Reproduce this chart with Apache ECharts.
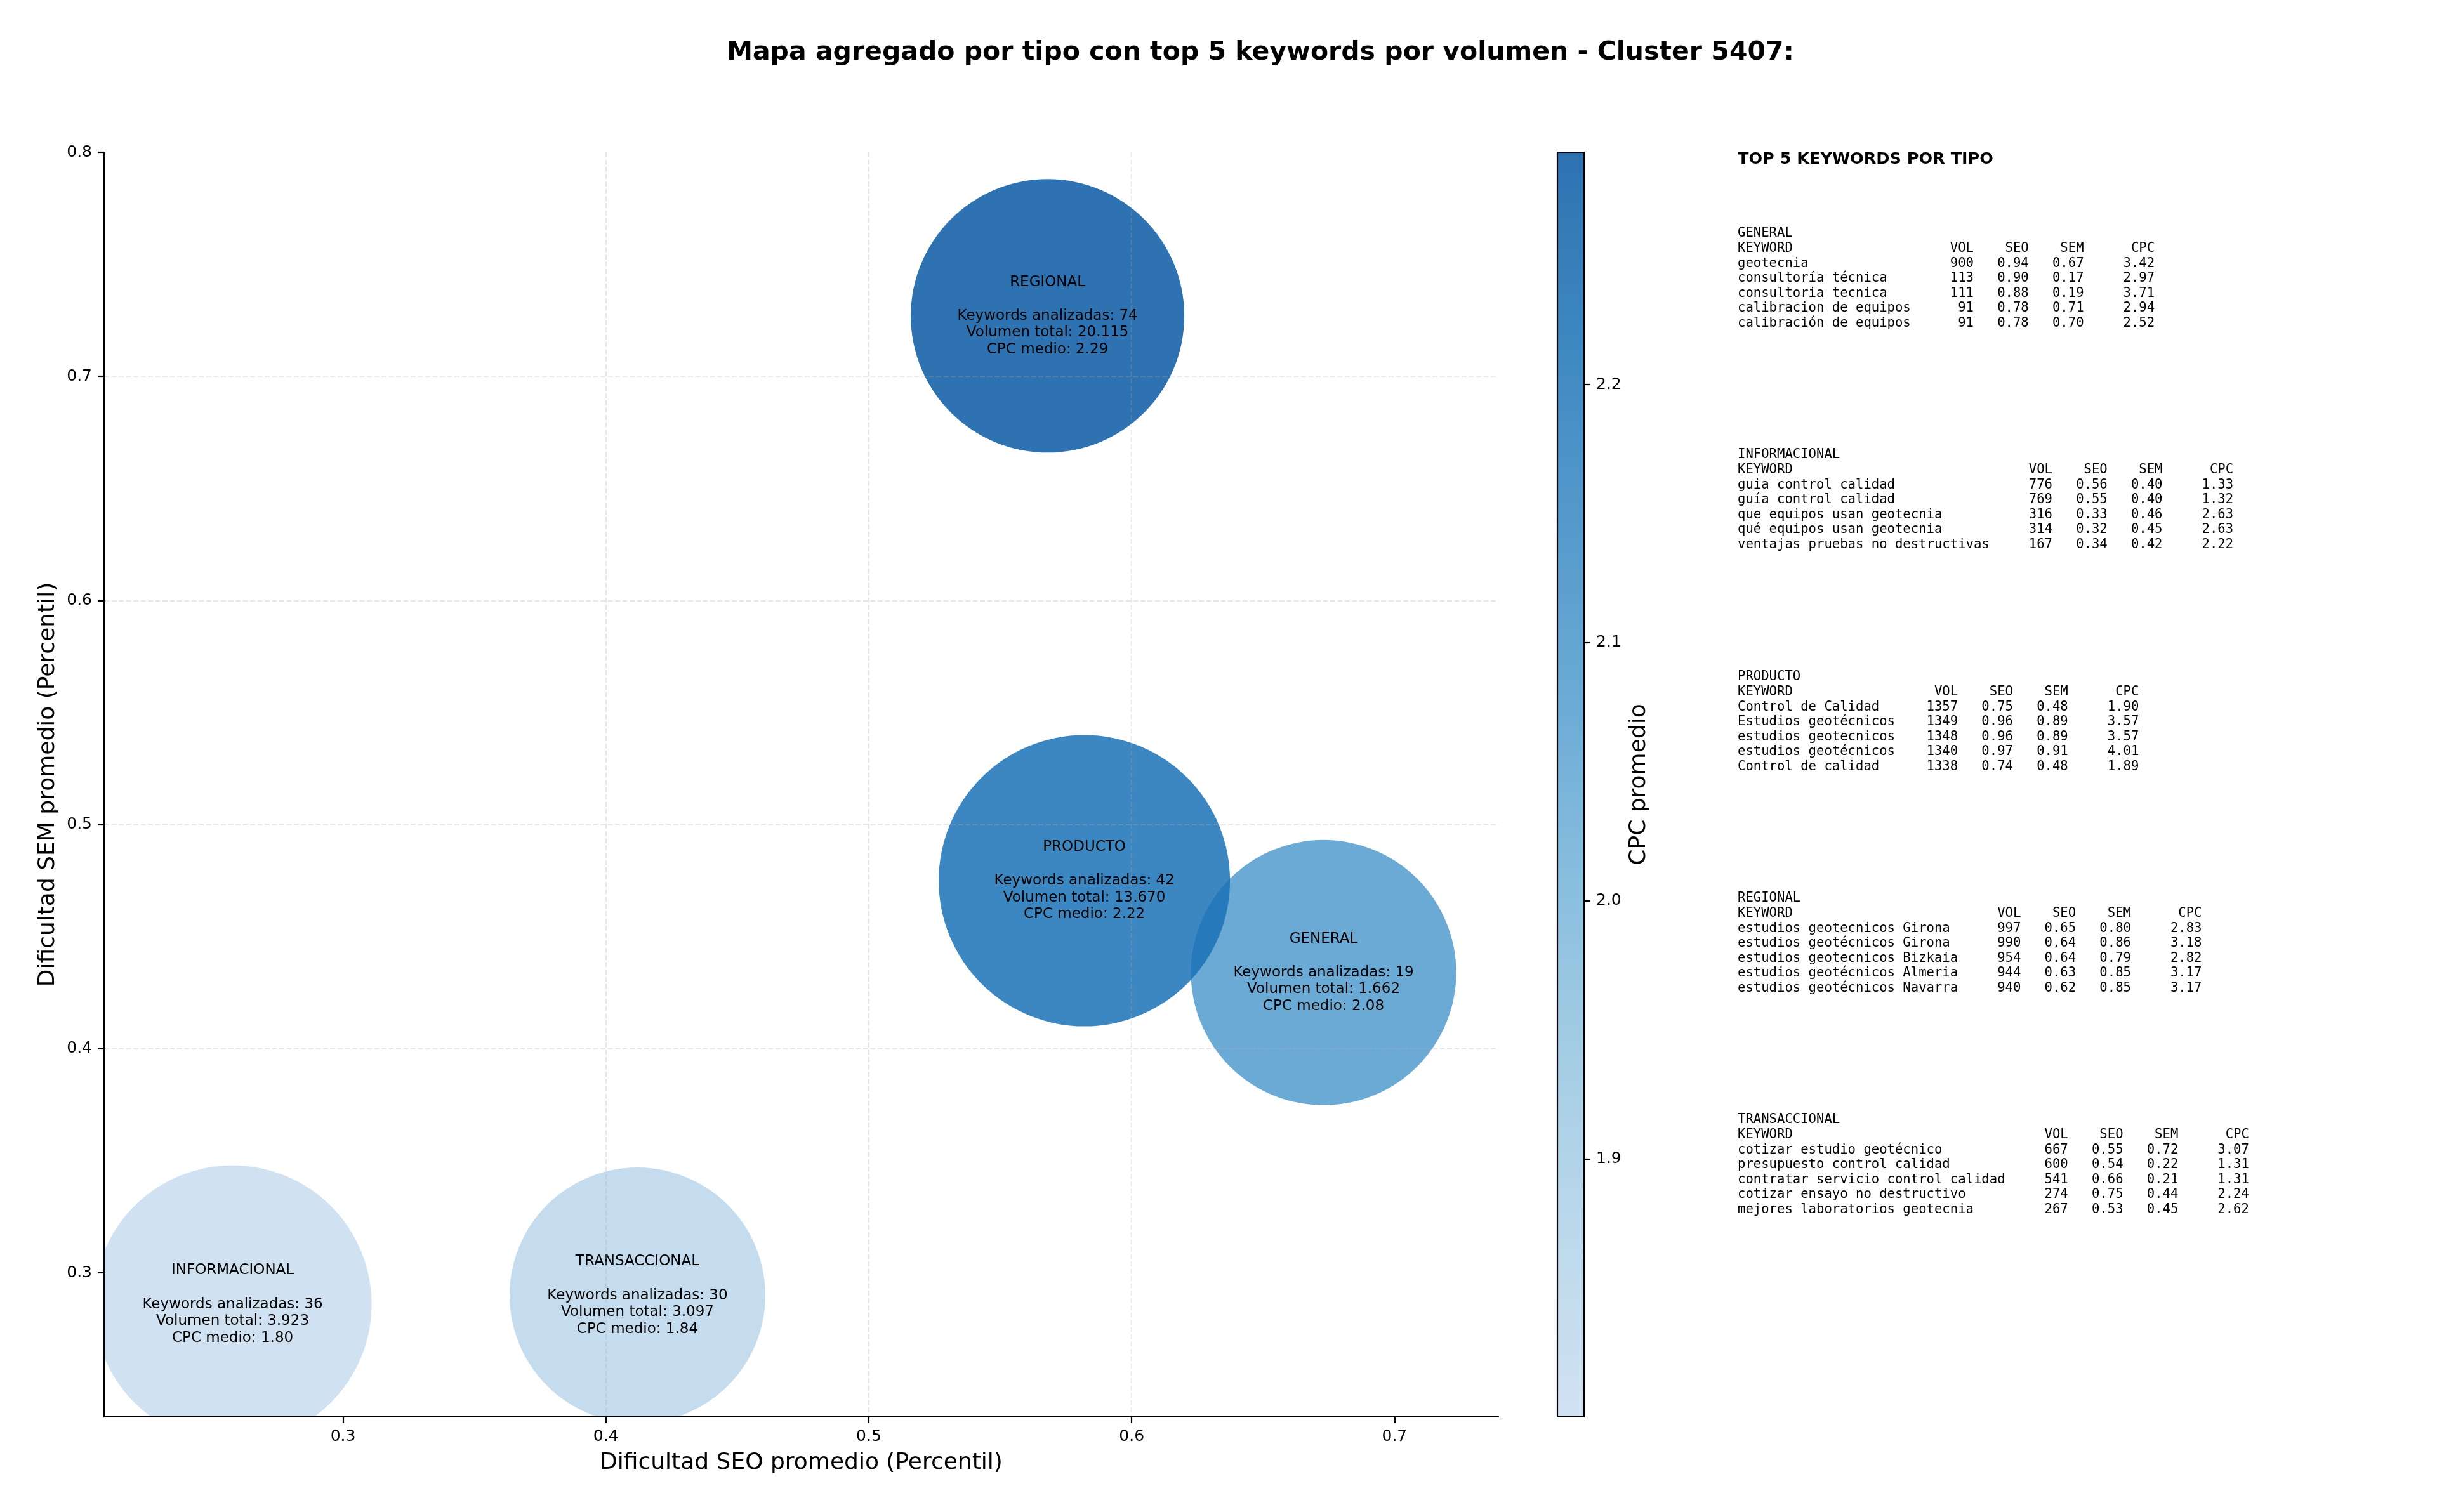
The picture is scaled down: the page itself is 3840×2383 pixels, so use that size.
<!DOCTYPE html>
<html>
<head>
<meta charset="utf-8">
<script src="https://cdn.jsdelivr.net/npm/echarts@6/dist/echarts.min.js"></script>
<style>
html,body{margin:0;padding:0;background:#fff;}
#chart{width:3840px;height:2383px;}
</style>
</head>
<body>
<div id="chart"></div>
<script>
// ---------- DATA ----------
const types = ['GENERAL', 'INFORMACIONAL', 'PRODUCTO', 'REGIONAL', 'TRANSACCIONAL'];
const seoAvg = [0.673, 0.258, 0.582, 0.568, 0.412];
const semAvg = [0.434, 0.286, 0.475, 0.727, 0.290];
const cpcAvg = [2.08, 1.80, 2.22, 2.29, 1.84];
const kwCount = [19, 36, 42, 74, 30];
const volTotal = [1662, 3923, 13670, 20115, 3097];
const bubbleDiam = [418, 438, 459, 431, 403];

const xTicks = [0.3, 0.4, 0.5, 0.6, 0.7];
const yTicks = [0.3, 0.4, 0.5, 0.6, 0.7, 0.8];
const cbTicks = [1.9, 2.0, 2.1, 2.2];
const xRange = [0.2091, 0.7395];
const yRange = [0.2358, 0.8];
const cbRange = [1.80, 2.29];

// top keywords tables
const topKw = {
  GENERAL: {
    kw: ['geotecnia', 'consultoría técnica', 'consultoria tecnica', 'calibracion de equipos', 'calibración de equipos'],
    vol: [900, 113, 111, 91, 91],
    seo: [0.94, 0.90, 0.88, 0.78, 0.78],
    sem: [0.67, 0.17, 0.19, 0.71, 0.70],
    cpc: [3.42, 2.97, 3.71, 2.94, 2.52]
  },
  INFORMACIONAL: {
    kw: ['guia control calidad', 'guía control calidad', 'que equipos usan geotecnia', 'qué equipos usan geotecnia', 'ventajas pruebas no destructivas'],
    vol: [776, 769, 316, 314, 167],
    seo: [0.56, 0.55, 0.33, 0.32, 0.34],
    sem: [0.40, 0.40, 0.46, 0.45, 0.42],
    cpc: [1.33, 1.32, 2.63, 2.63, 2.22]
  },
  PRODUCTO: {
    kw: ['Control de Calidad', 'Estudios geotécnicos', 'estudios geotecnicos', 'estudios geotécnicos', 'Control de calidad'],
    vol: [1357, 1349, 1348, 1340, 1338],
    seo: [0.75, 0.96, 0.96, 0.97, 0.74],
    sem: [0.48, 0.89, 0.89, 0.91, 0.48],
    cpc: [1.90, 3.57, 3.57, 4.01, 1.89]
  },
  REGIONAL: {
    kw: ['estudios geotecnicos Girona', 'estudios geotécnicos Girona', 'estudios geotecnicos Bizkaia', 'estudios geotécnicos Almeria', 'estudios geotécnicos Navarra'],
    vol: [997, 990, 954, 944, 940],
    seo: [0.65, 0.64, 0.64, 0.63, 0.62],
    sem: [0.80, 0.86, 0.79, 0.85, 0.85],
    cpc: [2.83, 3.18, 2.82, 3.17, 3.17]
  },
  TRANSACCIONAL: {
    kw: ['cotizar estudio geotécnico', 'presupuesto control calidad', 'contratar servicio control calidad', 'cotizar ensayo no destructivo', 'mejores laboratorios geotecnia'],
    vol: [667, 600, 541, 274, 267],
    seo: [0.55, 0.54, 0.66, 0.75, 0.53],
    sem: [0.72, 0.22, 0.21, 0.44, 0.45],
    cpc: [3.07, 1.31, 1.31, 2.24, 2.62]
  }
};

// ---------- STYLE ----------
const blueStops = ['#c8dcf0', '#b0d2e8', '#94c4df', '#72b2d8', '#509bce', '#3587c2', '#1a72b6', '#0959a3'];
const bubbleOpacity = 0.85;
const FONT = 'DejaVu Sans';
const MONO = 'DejaVu Sans Mono';

function fmtVol(v) { return String(v).replace(/\B(?=(\d{3})+(?!\d))/g, '.'); }

function buildTable(name) {
  const t = topKw[name];
  const w = Math.max(...t.kw.map(k => k.length));
  const lines = [name];
  lines.push('KEYWORD'.padEnd(w) + 'VOL'.padStart(8) + 'SEO'.padStart(7) + 'SEM'.padStart(7) + 'CPC'.padStart(9));
  for (let i = 0; i < t.kw.length; i++) {
    lines.push(t.kw[i].padEnd(w) + String(t.vol[i]).padStart(8) + t.seo[i].toFixed(2).padStart(7) +
      t.sem[i].toFixed(2).padStart(7) + t.cpc[i].toFixed(2).padStart(9));
  }
  return lines.join('\n');
}

function bubbleLabel(i) {
  return types[i] + '\n\nKeywords analizadas: ' + kwCount[i] + '\nVolumen total: ' + fmtVol(volTotal[i]) + '\nCPC medio: ' + cpcAvg[i].toFixed(2);
}

// layout (pixels)
const G = { left: 164, top: 240, right: 2361, bottom: 2233 };
const CB = { left: 2454, width: 42 };
const tableX = 2738;
const tableFirstLine = [368, 717, 1067, 1416, 1765];
const tableLH = 23.6;

const chart = echarts.init(document.getElementById('chart'), null, { renderer: 'canvas' });

const graphics = [];
graphics.push({
  type: 'text', x: 1986, y: 83, z: 10,
  style: { text: 'Mapa agregado por tipo con top 5 keywords por volumen - Cluster 5407:', font: 'bold 41px "' + FONT + '"', fill: '#000', align: 'center', verticalAlign: 'middle' }
});
graphics.push({
  type: 'text', x: tableX, y: 251, z: 10,
  style: { text: 'TOP 5 KEYWORDS POR TIPO', font: 'bold 25.5px "' + FONT + '"', fill: '#000', align: 'left', verticalAlign: 'middle' }
});
types.forEach((t, i) => {
  graphics.push({
    type: 'text', x: tableX, y: tableFirstLine[i] - tableLH / 2, z: 10,
    style: { text: buildTable(t), font: '20.6px "' + MONO + '"', lineHeight: tableLH, fill: '#000', align: 'left', verticalAlign: 'top' }
  });
});
// colorbar gradient
graphics.push({
  type: 'rect', z: 1,
  shape: { x: CB.left, y: G.top, width: CB.width, height: G.bottom - G.top },
  style: {
    fill: new echarts.graphic.LinearGradient(0, 1, 0, 0, blueStops.map((c, k) => ({ offset: k / (blueStops.length - 1), color: c }))),
    opacity: bubbleOpacity
  }
});
graphics.push({
  type: 'rect', z: 20,
  shape: { x: CB.left, y: G.top, width: CB.width, height: G.bottom - G.top },
  style: { fill: 'none', stroke: '#000', lineWidth: 2.2 }
});

const option = {
  backgroundColor: '#ffffff',
  animation: false,
  textStyle: { fontFamily: FONT },
  graphic: graphics,
  grid: [
    { left: G.left, top: G.top, width: G.right - G.left, height: G.bottom - G.top, containLabel: false },
    { left: CB.left, top: G.top, width: CB.width, height: G.bottom - G.top, containLabel: false }
  ],
  visualMap: {
    show: false, type: 'continuous', dimension: 2, seriesIndex: 0,
    min: cbRange[0], max: cbRange[1], inRange: { color: blueStops }
  },
  xAxis: [
    {
      gridIndex: 0, type: 'value', min: xRange[0], max: xRange[1], z: 3,
      name: 'Dificultad SEO promedio (Percentil)', nameLocation: 'middle', nameGap: 55,
      nameTextStyle: { fontSize: 36, color: '#000', fontFamily: FONT },
      axisLine: { show: true, onZero: false, lineStyle: { color: '#000', width: 2.2 } },
      axisTick: { show: true, customValues: xTicks, length: 9.7, lineStyle: { color: '#000', width: 2.2 } },
      axisLabel: { customValues: xTicks, formatter: v => v.toFixed(1), fontSize: 25, color: '#000', margin: 19, fontFamily: FONT },
      splitLine: { show: true, showMinLine: false, showMaxLine: false, lineStyle: { color: 'rgba(176,176,176,0.3)', width: 2.2, type: [8, 3.5] } }
    },
    { gridIndex: 1, type: 'value', show: false, min: 0, max: 1 }
  ],
  yAxis: [
    {
      gridIndex: 0, type: 'value', min: yRange[0], max: yRange[1], z: 3,
      name: 'Dificultad SEM promedio (Percentil)', nameLocation: 'middle', nameGap: 70, nameRotate: 90,
      nameTextStyle: { fontSize: 36, color: '#000', fontFamily: FONT },
      axisLine: { show: true, onZero: false, lineStyle: { color: '#000', width: 2.2 } },
      axisTick: { show: true, customValues: yTicks, length: 9.7, lineStyle: { color: '#000', width: 2.2 } },
      axisLabel: { customValues: yTicks, formatter: v => v.toFixed(1), fontSize: 25, color: '#000', margin: 19, fontFamily: FONT },
      splitLine: { show: true, showMinLine: false, showMaxLine: false, lineStyle: { color: 'rgba(176,176,176,0.3)', width: 2.2, type: [8, 3.5] } }
    },
    {
      gridIndex: 1, type: 'value', position: 'right', min: cbRange[0], max: cbRange[1], z: 21,
      name: 'CPC promedio', nameLocation: 'middle', nameGap: 68.5, nameRotate: 90,
      nameTextStyle: { fontSize: 36, color: '#000', fontFamily: FONT },
      axisLine: { show: true, onZero: false, lineStyle: { color: '#000', width: 2.2 } },
      axisTick: { show: true, customValues: cbTicks, length: 9.7, lineStyle: { color: '#000', width: 2.2 } },
      axisLabel: { customValues: cbTicks, formatter: v => v.toFixed(1), fontSize: 25, color: '#000', margin: 19, fontFamily: FONT },
      splitLine: { show: false }
    }
  ],
  series: [{
    type: 'custom',
    coordinateSystem: 'cartesian2d',
    xAxisIndex: 0, yAxisIndex: 0,
    clip: true,
    data: types.map((t, i) => [seoAvg[i], semAvg[i], cpcAvg[i], i]),
    encode: { x: 0, y: 1 },
    renderItem: (params, api) => {
      const i = api.value(3);
      const c = api.coord([api.value(0), api.value(1)]);
      return {
        type: 'group',
        children: [
          {
            type: 'circle', z2: 1,
            shape: { cx: c[0], cy: c[1], r: bubbleDiam[i] / 2 },
            style: { fill: api.visual('color'), opacity: bubbleOpacity }
          },
          {
            type: 'text', z2: 100, x: c[0], y: c[1],
            style: { text: bubbleLabel(i), fill: '#000', font: '23px "' + FONT + '"', lineHeight: 26.6, align: 'center', verticalAlign: 'middle' }
          }
        ]
      };
    }
  }]
};
chart.setOption(option);
</script>
</body>
</html>
